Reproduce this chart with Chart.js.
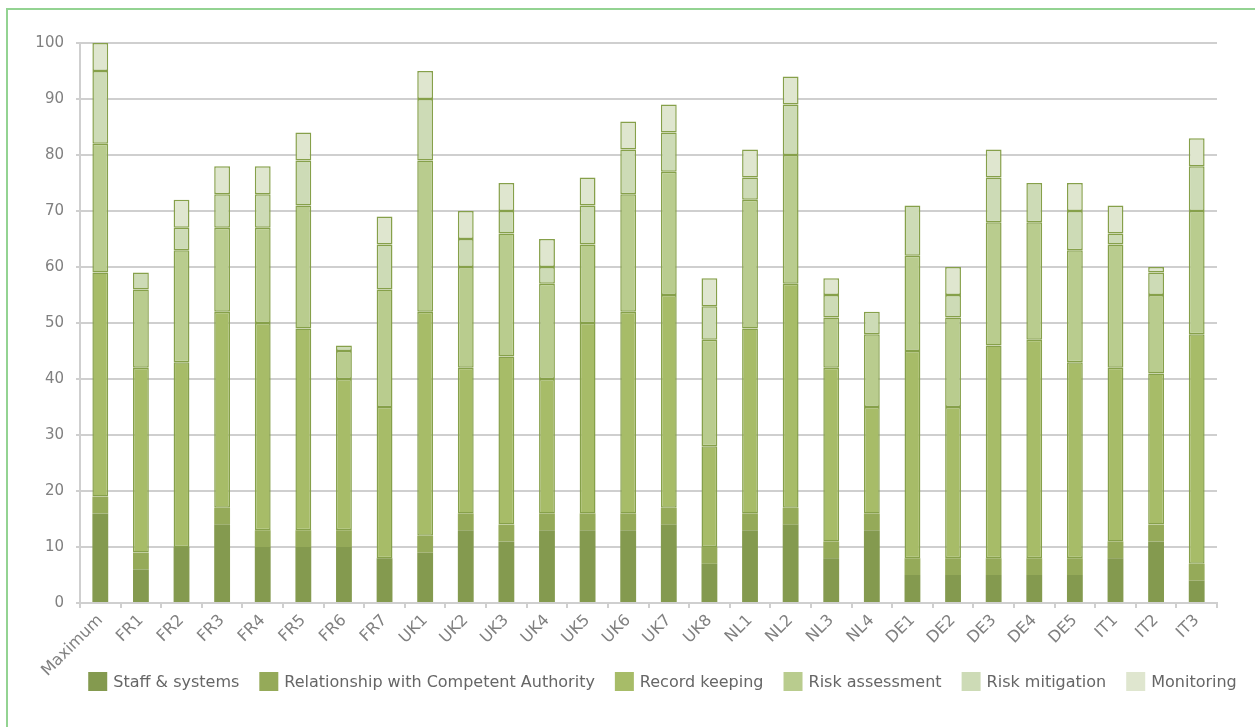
<!DOCTYPE html>
<html>
<head>
<meta charset="utf-8">
<script src="https://cdn.jsdelivr.net/npm/chart.js@4/dist/chart.umd.min.js"></script>
<style>
  html, body { margin: 0; padding: 0; background: #ffffff; overflow: hidden; }
  #wrap { position: relative; width: 1255px; height: 727px; }
  #frame { position: absolute; left: 6px; top: 8px; width: 1300px; height: 800px;
           border-left: 2px solid #93d392; border-top: 2px solid #93d392; box-sizing: border-box; }
  canvas { position: absolute; left: 0; top: 0; }
</style>
</head>
<body>
<div id="wrap">
  <div id="frame"></div>
  <canvas id="chart" width="1255" height="727"></canvas>
</div>
<script>
// Categories along the x axis
const categories = ['Maximum', 'FR1', 'FR2', 'FR3', 'FR4', 'FR5', 'FR6', 'FR7',
  'UK1', 'UK2', 'UK3', 'UK4', 'UK5', 'UK6', 'UK7', 'UK8',
  'NL1', 'NL2', 'NL3', 'NL4', 'DE1', 'DE2', 'DE3', 'DE4', 'DE5', 'IT1', 'IT2', 'IT3'];

// Score per component (stacked from the bottom up)
const staffSystems   = [16, 6, 10, 14, 10, 10, 10, 8, 9, 13, 11, 13, 13, 13, 14, 7, 13, 14, 8, 13, 5, 5, 5, 5, 5, 8, 11, 4];
const relationshipCA = [3, 3, 0, 3, 3, 3, 3, 0, 3, 3, 3, 3, 3, 3, 3, 3, 3, 3, 3, 3, 3, 3, 3, 3, 3, 3, 3, 3];
const recordKeeping  = [40, 33, 33, 35, 37, 36, 27, 27, 40, 26, 30, 24, 34, 36, 38, 18, 33, 40, 31, 19, 37, 27, 38, 39, 35, 31, 27, 41];
const riskAssessment = [23, 14, 20, 15, 17, 22, 5, 21, 27, 18, 22, 17, 14, 21, 22, 19, 23, 23, 9, 13, 17, 16, 22, 21, 20, 22, 14, 22];
const riskMitigation = [13, 3, 4, 6, 6, 8, 1, 8, 11, 5, 4, 3, 7, 8, 7, 6, 4, 9, 4, 4, 9, 4, 8, 7, 7, 2, 4, 8];
const monitoring     = [5, 0, 5, 5, 5, 5, 0, 5, 5, 5, 5, 5, 5, 5, 5, 5, 5, 5, 3, 0, 0, 5, 5, 0, 5, 5, 1, 5];

// Value axis ticks
const yTicks = [0, 10, 20, 30, 40, 50, 60, 70, 80, 90, 100];

const seriesNames = ['Staff & systems', 'Relationship with Competent Authority', 'Record keeping',
  'Risk assessment', 'Risk mitigation', 'Monitoring'];
const seriesData = [staffSystems, relationshipCA, recordKeeping, riskAssessment, riskMitigation, monitoring];
const fills = ['#849a4f', '#95aa59', '#a7bc68', '#b9cc8e', '#cddbb6', '#dfe6cf'];
const outlined = [false, false, true, true, true, true];
const edge = '#86a04a';

const datasets = seriesNames.map((name, i) => ({
  label: name,
  data: seriesData[i],
  backgroundColor: fills[i],
  borderColor: edge,
  borderWidth: outlined[i] ? 1.5 : 0,
  borderSkipped: false,
  barPercentage: 0.39,
  categoryPercentage: 1.0
}));

const FONT = "'DejaVu Sans', sans-serif";

// One-row legend under the axis labels, centred on the frame
const rowLegend = {
  id: 'rowLegend',
  afterDraw(chart) {
    const ctx = chart.ctx;
    const box = 19, textGap = 6, itemGap = 20, top = 672, centreX = 662.5;
    ctx.save();
    ctx.font = "16px " + FONT;
    ctx.textBaseline = 'middle';
    ctx.textAlign = 'left';
    const items = chart.data.datasets.map(ds => ({
      label: ds.label, color: ds.backgroundColor, w: ctx.measureText(ds.label).width
    }));
    const total = items.reduce((s, it) => s + box + textGap + it.w, 0) + itemGap * (items.length - 1);
    let x = centreX - total / 2;
    items.forEach(it => {
      ctx.fillStyle = it.color;
      ctx.fillRect(x, top, box, box);
      ctx.fillStyle = '#666666';
      ctx.fillText(it.label, x + box + textGap, top + box / 2 + 1);
      x += box + textGap + it.w + itemGap;
    });
    ctx.restore();
  }
};

new Chart(document.getElementById('chart'), {
  type: 'bar',
  data: { labels: categories, datasets },
  plugins: [rowLegend],
  options: {
    responsive: false,
    animation: false,
    maintainAspectRatio: false,
    layout: { padding: { left: 0, right: 38, top: 43, bottom: 34 } },
    plugins: {
      tooltip: { enabled: false },
      legend: { display: false }
    },
    scales: {
      x: {
        stacked: true,
        grid: { offset: true, drawOnChartArea: false, color: '#cfcfcf', lineWidth: 2, tickLength: 5 },
        border: { color: '#cfcfcf', width: 2 },
        ticks: {
          font: { family: FONT, size: 16 },
          color: '#808080',
          maxRotation: 45,
          minRotation: 45,
          padding: 3,
          autoSkip: false
        },
        afterFit: (scale) => { scale.height = 90; }
      },
      y: {
        stacked: true,
        min: 0,
        max: 100,
        afterBuildTicks: (scale) => { scale.ticks = yTicks.map(v => ({ value: v })); },
        grid: { color: '#cfcfcf', lineWidth: 2, tickLength: 4 },
        border: { color: '#cfcfcf', width: 2 },
        ticks: {
          font: { family: FONT, size: 15 },
          color: '#808080',
          padding: 12
        },
        afterFit: (scale) => { scale.width = 80; }
      }
    }
  }
});
</script>
</body>
</html>
